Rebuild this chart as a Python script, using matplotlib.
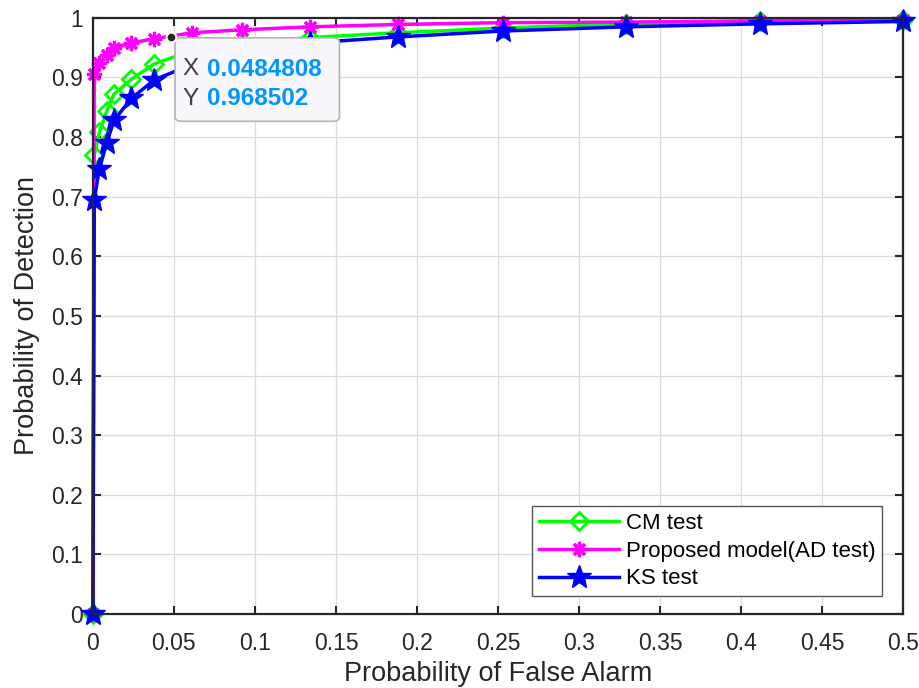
import numpy as np
import matplotlib.pyplot as plt
from matplotlib.patches import FancyBboxPatch
from matplotlib.ticker import FormatStrFormatter, MultipleLocator

plt.rcParams['font.family'] = ['Liberation Sans', 'DejaVu Sans']

# False alarm probabilities (shared grid)
pfa = [0, 0.0008, 0.004, 0.0085, 0.0130, 0.0237, 0.0380, 0.061, 0.092,
       0.134, 0.188, 0.253, 0.329, 0.412, 0.5]

# Probability of detection for each test
pd_cm = [0, 0.770, 0.808, 0.843, 0.872, 0.897, 0.923, 0.945, 0.957,
         0.967, 0.975, 0.983, 0.990, 0.995, 0.997]
pd_ad = [0, 0.906, 0.924, 0.938, 0.950, 0.958, 0.965, 0.975, 0.980,
         0.985, 0.989, 0.992, 0.993, 0.995, 0.997]
pd_ks = [0, 0.695, 0.747, 0.790, 0.828, 0.865, 0.896, 0.922, 0.942,
         0.958, 0.968, 0.978, 0.985, 0.990, 0.994]

labels = ['CM test', 'Proposed model(AD test)', 'KS test']

# data tip shown on the AD curve
tip_x = 0.0484808
tip_y = 0.968502

fig = plt.figure(figsize=(9.2, 6.88), dpi=100)
ax = fig.add_axes([0.101, 0.1076, 0.8805, 0.8664])

ax.plot(pfa, pd_cm, color=(0, 1, 0), lw=2.5, marker='D', ms=9,
        mfc='none', mec=(0, 1, 0), mew=2, label=labels[0], clip_on=False)
ax.plot(pfa, pd_ad, color=(1, 0, 1), lw=2.5, marker=(8, 2, 0), ms=11,
        mec=(1, 0, 1), mew=2.3, label=labels[1], clip_on=False)
ax.plot(pfa, pd_ks, color=(0, 0, 1), lw=2.5, marker='*', ms=18,
        mfc=(0, 0, 1), mec=(0, 0, 1), label=labels[2], clip_on=False)

ax.set_xlim(0, 0.5)
ax.set_ylim(0, 1)
ax.xaxis.set_major_locator(MultipleLocator(0.05))
ax.yaxis.set_major_locator(MultipleLocator(0.1))
ax.xaxis.set_major_formatter(FormatStrFormatter('%g'))
ax.yaxis.set_major_formatter(FormatStrFormatter('%g'))
ax.grid(True, color='#dcdcdc', lw=0.9)
ax.set_axisbelow(True)
ax.tick_params(direction='in', length=6, width=1.5, top=True, right=True,
               labelsize=16.5, colors='#262626')
ax.tick_params(axis='x', pad=13)
ax.tick_params(axis='y', pad=7)
for sp in ax.spines.values():
    sp.set_linewidth(1.6)
    sp.set_color('#262626')

ax.set_xlabel('Probability of False Alarm', fontsize=19.5, color='#262626', labelpad=4)
ax.set_ylabel('Probability of Detection', fontsize=19.5, color='#262626', labelpad=8)

leg = ax.legend(loc='lower right', fontsize=16, handlelength=3.6,
                fancybox=False, edgecolor='#555555', framealpha=1,
                borderaxespad=0, labelspacing=0.3, handletextpad=0.3,
                borderpad=0.3, bbox_to_anchor=(0.974, 0.030))
leg.get_frame().set_linewidth(1.0)

# data tip
box = FancyBboxPatch((tip_x + 0.0022, tip_y - 0.142), 0.1015, 0.14,
                     boxstyle='round,pad=0,rounding_size=0.004',
                     mutation_aspect=2.0, fc='#f8f8fc', ec='#b4b4b4',
                     lw=1.2, zorder=5, clip_on=False)
ax.add_patch(box)
ax.plot([tip_x], [tip_y], 'o', ms=7, color='#262626', mec='#fffbe0',
        mew=1.5, zorder=6)
ax.text(tip_x + 0.0065, tip_y - 0.055, 'X', fontsize=17.5, color='#404040',
        va='center', zorder=7)
ax.text(tip_x + 0.0220, tip_y - 0.055, f'{tip_x:g}', fontsize=17.5,
        color='#0096ff', weight='bold', va='center', zorder=7)
ax.text(tip_x + 0.0065, tip_y - 0.104, 'Y', fontsize=17.5, color='#404040',
        va='center', zorder=7)
ax.text(tip_x + 0.0220, tip_y - 0.104, f'{tip_y:g}', fontsize=17.5,
        color='#0096ff', weight='bold', va='center', zorder=7)

fig.savefig('out.png', dpi=100)
